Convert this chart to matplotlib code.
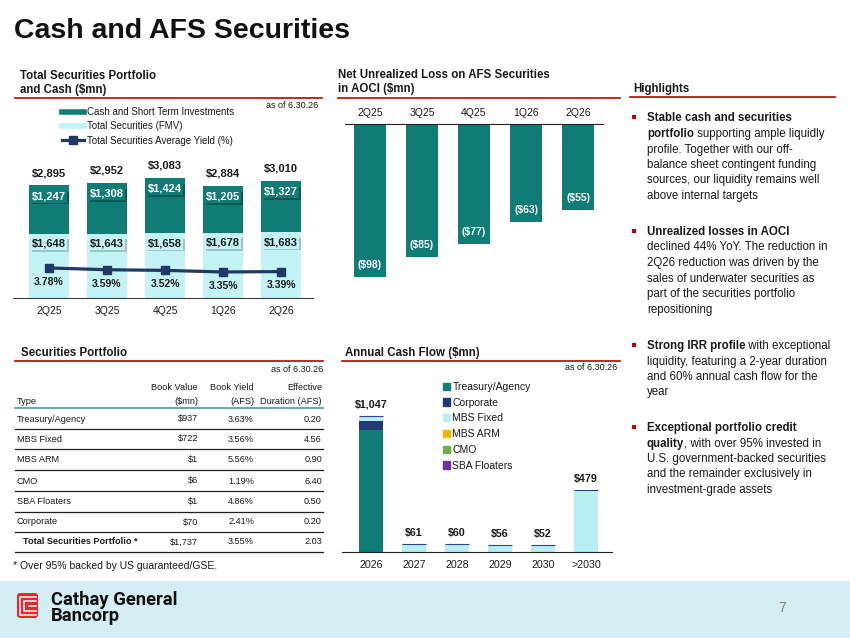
import matplotlib
matplotlib.use('Agg')
import matplotlib.pyplot as plt
import matplotlib.patheffects as pe
from matplotlib.patches import Rectangle, FancyBboxPatch
from matplotlib.lines import Line2D
import numpy as np

plt.rcParams['font.family'] = ['Liberation Sans', 'DejaVu Sans']

W, H = 850, 638

# ---------------- data ----------------
quarters = ['2Q25', '3Q25', '4Q25', '1Q26', '2Q26']
securities_fmv = [1648, 1643, 1658, 1678, 1683]
cash_st = [1247, 1308, 1424, 1205, 1327]
total_port = [2895, 2952, 3083, 2884, 3010]
avg_yield = [3.78, 3.59, 3.52, 3.35, 3.39]

aoci_loss = [-98, -85, -77, -63, -55]

table_types = ['Treasury/Agency', 'MBS Fixed', 'MBS ARM', 'CMO', 'SBA Floaters', 'Corporate']
book_value = ['$937', '$722', '$1', '$6', '$1', '$70']
book_yield = ['3.63%', '3.56%', '5.56%', '1.19%', '4.86%', '2.41%']
eff_duration = ['0.20', '4.56', '0.90', '6.40', '0.50', '0.20']
total_row = ['Total Securities Portfolio *', '$1,737', '3.55%', '2.03']

cf_years = ['2026', '2027', '2028', '2029', '2030', '>2030']
cf_treasury = [937, 0, 0, 0, 0, 0]
cf_corporate = [70, 0, 0, 0, 0, 0]
cf_mbs_fixed = [38, 60, 59, 55, 51, 477]
cf_mbs_arm = [0, 0, 0, 0, 0, 1]
cf_cmo = [1, 1, 1, 1, 1, 1]
cf_sba = [1, 0, 0, 0, 0, 0]
cf_totals = [1047, 61, 60, 56, 52, 479]

# ---------------- style ----------------
TEAL = '#0F7D76'
CYAN = '#C4F3F6'
CYAN2 = '#B6EEF1'
NAVY = '#1F3864'
CORP = '#1F3A75'
RED = '#C00000'
TXT = '#1A1A1A'
FOOT = '#D5EEF3'

fig = plt.figure(figsize=(W / 100, H / 100), dpi=100)
renderer = fig.canvas.get_renderer()


def add_ax(x0, y0, x1, y1):
    a = fig.add_axes([x0 / W, 1 - y1 / H, (x1 - x0) / W, (y1 - y0) / H])
    a.set_facecolor('none')
    return a


# overlay for layout text / lines
ov = fig.add_axes([0, 0, 1, 1])
ov.set_xlim(0, W)
ov.set_ylim(H, 0)
ov.axis('off')
ov.set_zorder(0)

# footer band
ov.add_patch(Rectangle((0, 581), W, H - 581, color=FOOT, lw=0))
# logo
ov.add_patch(FancyBboxPatch((17, 593), 21, 25, boxstyle='round,pad=0,rounding_size=3',
                            fc='#E8262B', ec='none'))
ov.plot([36, 20.5, 20.5, 36], [596.5, 596.5, 614.5, 614.5], color='white', lw=1.1)
ov.plot([36, 24.5, 24.5, 36], [600.5, 600.5, 610.5, 610.5], color='white', lw=1.1)
ov.plot([29, 36], [605.5, 605.5], color='white', lw=1.1)
ov.text(51, 608, 'Cathay General\nBancorp', fontsize=13.2, fontweight='bold',
        family=['Roboto', 'DejaVu Sans'], va='center', ha='left', color='#111111', linespacing=0.92)
ov.text(782, 608, '7', fontsize=10, color='#808080', va='center', ha='center')

# main title
ov.text(14, 31, 'Cash and AFS Securities', fontsize=20.5, fontweight='bold', va='center', ha='left', color='#111111')


def section_title(x, ys, lines, lx0, lx1, ly):
    for yy, ln in zip(ys, lines):
        ov.text(x, yy, ln, fontsize=8.3, fontweight='bold', va='center', ha='left', color=TXT)
    ov.plot([lx0, lx1], [ly, ly], color=RED, lw=1.2)


section_title(20, [76, 90], ['Total Securities Portfolio', 'and Cash ($mn)'], 15, 322, 98)
section_title(338, [75, 89], ['Net Unrealized Loss on AFS Securities', 'in AOCI ($mn)'], 338, 620, 98)
section_title(633, [89], ['Highlights'], 630, 835, 97)
section_title(21, [353], ['Securities Portfolio'], 15, 323, 361)
section_title(345, [353], ['Annual Cash Flow ($mn)'], 342, 620, 361)

ov.text(318, 105, 'as of 6.30.26', fontsize=6.5, ha='right', va='center', color=TXT)
ov.text(323, 369, 'as of 6.30.26', fontsize=6.5, ha='right', va='center', color=TXT)
ov.text(617, 368, 'as of 6.30.26', fontsize=6.5, ha='right', va='center', color=TXT)

# ---------------- chart 1 ----------------
ax1 = add_ax(13, 150, 313, 298)
x = np.arange(len(quarters))
bw = 0.69
ax1.bar(x, securities_fmv, width=bw, color=CYAN, zorder=2)
ax1.bar(x, cash_st, bottom=securities_fmv, width=bw, color=TEAL, zorder=2)
ax1.set_xlim(-0.62, 4.55)
ax1.set_ylim(0, 148 / 0.039)
for s in ['top', 'left', 'right']:
    ax1.spines[s].set_visible(False)
ax1.spines['bottom'].set_color('#404040')
ax1.set_yticks([])
ax1.set_xticks(x)
ax1.set_xticklabels(quarters, fontsize=7.5, color=TXT)
ax1.tick_params(axis='x', length=0, pad=6)

for i in range(len(quarters)):
    ax1.annotate(f'${total_port[i]:,}', (i, total_port[i]), xytext=(0, 8.6), textcoords='offset points',
                 ha='center', va='center', fontsize=8, fontweight='bold', color=TXT)
    t = ax1.annotate(f'${cash_st[i]:,}', (i, total_port[i]), xytext=(0, -8.0), textcoords='offset points',
                     ha='center', va='center', fontsize=8, fontweight='bold', color='white',
                     bbox=dict(boxstyle='square,pad=0.12', fc=TEAL, ec='none'), zorder=4)
    t.get_bbox_patch().set_path_effects([pe.withSimplePatchShadow(offset=(1.2, -1.2),
                                                                  shadow_rgbFace='#0A4A45', alpha=0.7)])
    t2 = ax1.annotate(f'${securities_fmv[i]:,}', (i, securities_fmv[i]), xytext=(0, -7.2),
                      textcoords='offset points', ha='center', va='center', fontsize=8,
                      fontweight='bold', color=TXT,
                      bbox=dict(boxstyle='square,pad=0.12', fc=CYAN, ec='none'), zorder=4)
    t2.get_bbox_patch().set_path_effects([pe.withSimplePatchShadow(offset=(1.2, -1.2),
                                                                   shadow_rgbFace='#8AB3B6', alpha=0.7)])

ax1b = ax1.twinx()
ax1b.set_facecolor('none')
ax1b.plot(x, avg_yield, color=NAVY, lw=2.3, marker='s', ms=6, zorder=5)
ax1b.set_ylim(0.55, 0.55 + 148 / 9.3)
ax1b.axis('off')
for i in range(len(quarters)):
    ax1b.annotate(f'{avg_yield[i]:.2f}%', (i, avg_yield[i]), xytext=(0, -10), textcoords='offset points',
                  ha='center', va='center', fontsize=7.5, fontweight='bold', color=TXT)

h1 = [Line2D([], [], color=TEAL, lw=4), Line2D([], [], color=CYAN, lw=4),
      Line2D([], [], color=NAVY, lw=2.3, marker='s', ms=6)]
fig.legend(h1, ['Cash and Short Term Investments', 'Total Securities (FMV)', 'Total Securities Average Yield (%)'],
           loc='upper left', bbox_to_anchor=(62 / W, 1 - 107 / H), frameon=False, fontsize=7,
           handlelength=2.3, handletextpad=0.3, labelspacing=0.45, borderpad=0, borderaxespad=0,
           labelcolor=TXT)

# ---------------- chart 2 ----------------
ax2 = add_ax(345, 124, 603, 290)
ax2.bar(x, aoci_loss, width=0.63, color=TEAL)
ax2.set_xlim(-0.48, 4.48)
ax2.set_ylim(-(290 - 124) / 1.56, 0)
for s in ['bottom', 'left', 'right']:
    ax2.spines[s].set_visible(False)
ax2.spines['top'].set_color('#202020')
ax2.set_yticks([])
ax2.xaxis.tick_top()
ax2.set_xticks(x)
ax2.set_xticklabels(quarters, fontsize=7.5, color=TXT)
ax2.tick_params(axis='x', length=0, pad=4)
for i, v in enumerate(aoci_loss):
    ax2.annotate(f'(${-v})', (i, v), xytext=(0, 8.6), textcoords='offset points', ha='center',
                 va='center', fontsize=7.5, fontweight='bold', color='white')

# ---------------- highlights ----------------
HS = 8.3
hl = [
    (118, [('Stable cash and securities', True)]),
    (134, [('portfolio', True), (' supporting ample liquidly', False)]),
    (149.5, [('profile. Together with our off-', False)]),
    (165, [('balance sheet contingent funding', False)]),
    (180.5, [('sources, our liquidity remains well', False)]),
    (196, [('above internal targets', False)]),
    (232, [('Unrealized losses in AOCI', True)]),
    (247.5, [('declined 44% YoY. The reduction in', False)]),
    (263, [('2Q26 reduction was driven by the', False)]),
    (278.5, [('sales of underwater securities as', False)]),
    (294, [('part of the securities portfolio', False)]),
    (309.5, [('repositioning', False)]),
    (346, [('Strong IRR profile', True), (' with exceptional', False)]),
    (361.5, [('liquidity, featuring a 2-year duration', False)]),
    (377, [('and 60% annual cash flow for the', False)]),
    (392.5, [('year', False)]),
    (428, [('Exceptional portfolio credit', True)]),
    (443.5, [('quality', True), (', with over 95% invested in', False)]),
    (459, [('U.S. government-backed securities', False)]),
    (474.5, [('and the remainder exclusively in', False)]),
    (490, [('investment-grade assets', False)]),
]
for yy, parts in hl:
    cur = 647
    for txt, bold in parts:
        t = ov.text(cur, yy, txt, fontsize=HS, fontweight='bold' if bold else 'normal',
                    va='center', ha='left', color=TXT)
        cur += t.get_window_extent(renderer).width
for yy in [117, 231, 345, 427]:
    ov.add_patch(Rectangle((632, yy - 2.2), 4.4, 4.4, color=RED, lw=0))

# ---------------- table ----------------
TS = 6.6
cols_r = [198, 254, 322]
ov.text(17, 401, 'Type', fontsize=TS, ha='left', va='center', color=TXT)
for cx, (a, b) in zip(cols_r, [('Book Value', '($mn)'), ('Book Yield', '(AFS)'), ('Effective', 'Duration (AFS)')]):
    ov.text(cx, 388, a, fontsize=TS, ha='right', va='center', color=TXT)
    ov.text(cx, 401, b, fontsize=TS, ha='right', va='center', color=TXT)
ov.plot([15, 323], [407.5, 407.5], color='#3FA39B', lw=1.2)
row_y = [419, 439, 459.5, 481, 501.5, 522]
line_y = [428.5, 448.5, 470, 491, 511.5, 532]
for i, ry in enumerate(row_y):
    ov.text(17, ry, table_types[i], fontsize=TS, ha='left', va='center', color=TXT)
    ov.text(cols_r[0], ry, book_value[i], fontsize=TS, ha='right', va='center', color=TXT)
    ov.text(cols_r[1], ry, book_yield[i], fontsize=TS, ha='right', va='center', color=TXT)
    ov.text(cols_r[2], ry, eff_duration[i], fontsize=TS, ha='right', va='center', color=TXT)
    ov.plot([15, 323], [line_y[i], line_y[i]], color='#202020', lw=0.9)
ov.text(23, 542, total_row[0], fontsize=TS, fontweight='bold', ha='left', va='center', color=TXT)
for cx, v in zip(cols_r, total_row[1:]):
    ov.text(cx, 542, v, fontsize=TS, ha='right', va='center', color=TXT)
ov.plot([15, 323], [551.5, 551.5], color='#202020', lw=0.9)
ov.text(13, 566, '* Over 95% backed by US guaranteed/GSE.', fontsize=7.5, ha='left', va='center', color=TXT)

# ---------------- chart 4 ----------------
ax4 = add_ax(342, 380, 612, 552)
xc = np.arange(len(cf_years))
bw4 = 0.56
series = [
    ('Treasury/Agency', cf_treasury, TEAL, 'none', 0),
    ('Corporate', cf_corporate, CORP, 'none', 0),
    ('MBS Fixed', cf_mbs_fixed, CYAN2, 'none', 0),
    ('MBS ARM', cf_mbs_arm, '#F2B800', 'none', 0),
    ('CMO', cf_cmo, '#70AD47', '#35408A', 0.8),
    ('SBA Floaters', cf_sba, '#7030A0', 'none', 0),
]
bottom = np.zeros(len(cf_years))
handles4 = []
for name, vals, col, ec, lw in series:
    ax4.bar(xc, vals, bottom=bottom, width=bw4, color=col, edgecolor=ec, linewidth=lw)
    bottom += np.array(vals)
    handles4.append(Rectangle((0, 0), 1, 1, color=col))
ax4.set_xlim(-0.674, 5.605)
ax4.set_ylim(0, 172 / 0.13)
for s in ['top', 'left', 'right']:
    ax4.spines[s].set_visible(False)
ax4.spines['bottom'].set_color('#202020')
ax4.set_yticks([])
ax4.set_xticks(xc)
ax4.set_xticklabels(cf_years, fontsize=7.7, color=TXT)
ax4.tick_params(axis='x', length=0, pad=6)
for i, v in enumerate(cf_totals):
    ax4.annotate(f'${v:,}', (i, v), xytext=(0, 8), textcoords='offset points', ha='center', va='center',
                 fontsize=7.7, fontweight='bold', color=TXT)
fig.legend(handles4, [s[0] for s in series], loc='upper left', bbox_to_anchor=(443 / W, 1 - 382 / H),
           frameon=False, fontsize=7.5, handlelength=0.7, handleheight=0.7, handletextpad=0.2,
           labelspacing=0.55, borderpad=0, borderaxespad=0, labelcolor=TXT)

fig.savefig('out.png', dpi=100)
